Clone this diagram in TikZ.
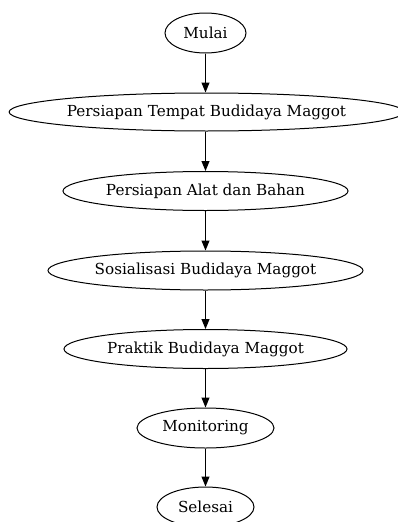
\documentclass[tikz,border=0pt]{standalone}
\usepackage{fontspec}
\setmainfont{DejaVu Serif}
\usetikzlibrary{shapes.geometric,arrows.meta}
\begin{document}
\begin{tikzpicture}[x=1pt,y=-1pt,
  stepnode/.style={ellipse,draw,line width=1pt,inner sep=0pt,font=\fontsize{15.2}{18}\selectfont},
  flow/.style={-{Triangle[length=10pt,width=8pt]},line width=1pt}]
\useasboundingbox (0,0) rectangle (397,522);
\node[stepnode,minimum width=81pt,minimum height=40pt] (a) at (205.5,33) {Mulai};
\node[stepnode,minimum width=384pt,minimum height=38pt] (b) at (206.5,112) {Persiapan Tempat Budidaya Maggot};
\node[stepnode,minimum width=285pt,minimum height=39pt] (c) at (205.5,191) {Persiapan Alat dan Bahan};
\node[stepnode,minimum width=315pt,minimum height=39pt] (d) at (205.5,270.5) {Sosialisasi Budidaya Maggot};
\node[stepnode,minimum width=283pt,minimum height=39pt] (e) at (205.5,349) {Praktik Budidaya Maggot};
\node[stepnode,minimum width=137pt,minimum height=40pt] (f) at (205.5,428) {Monitoring};
\node[stepnode,minimum width=97pt,minimum height=40pt] (g) at (205.5,507) {Selesai};
\draw[flow] (a) -- (a |- b.north);
\draw[flow] (a |- b.south) -- (c);
\draw[flow] (c) -- (d);
\draw[flow] (d) -- (e);
\draw[flow] (e) -- (f);
\draw[flow] (f) -- (g);
\end{tikzpicture}
\end{document}
